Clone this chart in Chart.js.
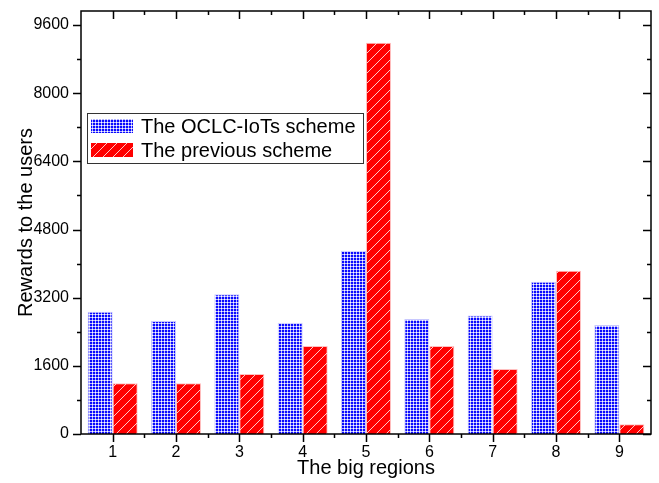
<!DOCTYPE html>
<html>
<head>
<meta charset="utf-8">
<script src="https://cdn.jsdelivr.net/npm/chart.js@4.4.1/dist/chart.umd.min.js"></script>
<style>
  html, body { margin: 0; padding: 0; background: #fff; }
  #wrap { width: 659px; height: 483px; }
</style>
</head>
<body>
<div id="wrap"><canvas id="chart" width="659" height="483"></canvas></div>
<script>
const regions = ['1', '2', '3', '4', '5', '6', '7', '8', '9'];
const oclcRewards = [2870, 2650, 3280, 2610, 4300, 2700, 2780, 3575, 2560];
const previousRewards = [1190, 1190, 1410, 2065, 9185, 2065, 1525, 3835, 230];
const yTicks = [0, 1600, 3200, 4800, 6400, 8000, 9600];
const yMinorTicks = [800, 2400, 4000, 5600, 7200, 8800];
const seriesNames = ['The OCLC-IoTs scheme', 'The previous scheme'];

const FONT = '"Liberation Sans", Arial, sans-serif';

// blue squares on a light mesh
function meshPattern() {
  const c = document.createElement('canvas');
  c.width = 3; c.height = 3;
  const g = c.getContext('2d');
  g.fillStyle = '#b4b4ff';
  g.fillRect(0, 0, 3, 3);
  g.fillStyle = '#0a0aff';
  g.fillRect(0, 0, 2, 2);
  g.fillStyle = '#ffffff';
  g.fillRect(2, 2, 1, 1);
  return g.createPattern(c, 'repeat');
}

function hatchPattern() {
  const c = document.createElement('canvas');
  c.width = 10; c.height = 10;
  const g = c.getContext('2d');
  g.fillStyle = '#ff0000';
  g.fillRect(0, 0, 10, 10);
  g.fillStyle = '#ffc8c8';
  for (let i = 0; i < 10; i++) {
    g.fillRect(i, 9 - i, 1, 1);
  }
  return g.createPattern(c, 'repeat');
}

const blueFill = meshPattern();
const redFill = hatchPattern();

// frame, ticks on all four sides, and the boxed legend
const framePlugin = {
  id: 'frame',
  afterDraw(chart) {
    const ctx = chart.ctx;
    const a = chart.chartArea;
    const x = chart.scales.x;
    const y = chart.scales.y;
    ctx.save();
    ctx.strokeStyle = '#000';
    ctx.lineWidth = 1.5;
    ctx.strokeRect(a.left, a.top, a.right - a.left, a.bottom - a.top);

    ctx.beginPath();
    yTicks.concat(yMinorTicks).forEach(v => {
      const len = yTicks.includes(v) ? 8 : 4;
      const py = Math.round(y.getPixelForValue(v)) + 0.5;
      ctx.moveTo(a.left - len, py); ctx.lineTo(a.left, py);
      ctx.moveTo(a.right, py); ctx.lineTo(a.right - len, py);
    });
    regions.forEach((r, i) => {
      const px = Math.round(x.getPixelForValue(i)) + 0.5;
      ctx.moveTo(px, a.bottom); ctx.lineTo(px, a.bottom + 8);
      ctx.moveTo(px, a.top); ctx.lineTo(px, a.top + 8);
      if (i < regions.length - 1) {
        const mx = Math.round((x.getPixelForValue(i) + x.getPixelForValue(i + 1)) / 2) + 0.5;
        ctx.moveTo(mx, a.bottom); ctx.lineTo(mx, a.bottom + 4);
        ctx.moveTo(mx, a.top); ctx.lineTo(mx, a.top + 4);
      }
    });
    ctx.stroke();

    // legend
    const lx = a.left + 6, ly = a.top + 102;
    ctx.lineWidth = 1;
    ctx.fillStyle = '#fff';
    ctx.fillRect(lx, ly, 276, 50);
    ctx.strokeStyle = '#333';
    ctx.strokeRect(lx + 0.5, ly + 0.5, 276, 50);
    const fills = [blueFill, redFill];
    ctx.font = '20px ' + FONT;
    ctx.textBaseline = 'middle';
    seriesNames.forEach((name, i) => {
      const cy = ly + 13 + i * 24;
      ctx.fillStyle = fills[i];
      ctx.fillRect(lx + 4, cy - 7, 42, 14);
      ctx.fillStyle = '#000';
      ctx.fillText(name, lx + 54, cy + 1);
    });
    ctx.restore();
  }
};

new Chart(document.getElementById('chart'), {
  type: 'bar',
  data: {
    labels: regions,
    datasets: [{
      label: seriesNames[0],
      data: oclcRewards,
      backgroundColor: blueFill,
      borderColor: '#c8c8ff',
      borderWidth: 1
    }, {
      label: seriesNames[1],
      data: previousRewards,
      backgroundColor: redFill,
      borderColor: '#ffc0c0',
      borderWidth: 1
    }]
  },
  options: {
    responsive: false,
    animation: false,
    layout: { padding: { top: 11, right: 8, left: 0, bottom: 0 } },
    plugins: {
      legend: { display: false },
      tooltip: { enabled: false }
    },
    datasets: {
      bar: { categoryPercentage: 0.79, barPercentage: 1 }
    },
    scales: {
      x: {
        grid: { display: false, drawTicks: false },
        border: { display: false },
        ticks: { color: '#000', font: { family: FONT, size: 16 }, padding: 9, maxRotation: 0 },
        title: { display: true, text: 'The big regions', color: '#000', font: { family: FONT, size: 20 }, padding: { top: 0, bottom: 3 } },
        afterFit(scale) {
          scale.height = 49;
          scale.paddingLeft = 0; scale.paddingRight = 0;
        }
      },
      y: {
        min: 0,
        max: 9930,
        grid: { display: false, drawTicks: false },
        border: { display: false },
        ticks: {
          color: '#000', font: { family: FONT, size: 16 }, padding: 12,
          callback: v => String(v)
        },
        afterBuildTicks(scale) { scale.ticks = yTicks.map(v => ({ value: v })); },
        title: { display: true, text: 'Rewards to the users', color: '#000', font: { family: FONT, size: 20 }, padding: { top: 14, bottom: 0 } },
        afterFit(scale) {
          scale.width = 81;
          scale.paddingTop = 0; scale.paddingBottom = 0;
        }
      }
    }
  },
  plugins: [framePlugin]
});
</script>
</body>
</html>
